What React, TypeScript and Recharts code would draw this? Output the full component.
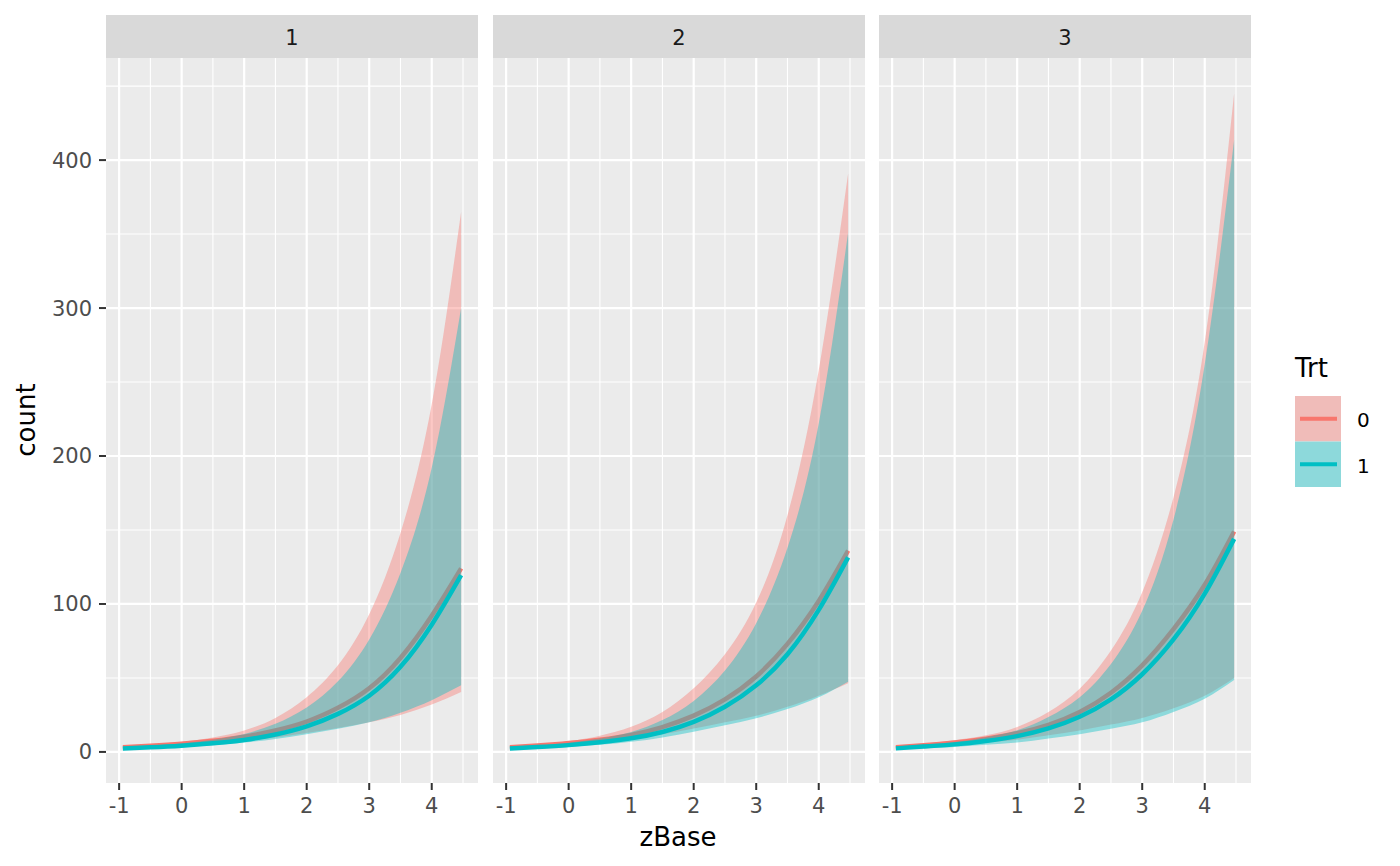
import { ComposedChart, Area, Line, XAxis, YAxis, CartesianGrid } from 'recharts';

const zBase = [-0.94, -0.5, 0, 0.5, 1, 1.5, 2, 2.5, 3, 3.5, 4, 4.47];

const facetLabels = ['1', '2', '3'];
const trtLabels = ['0', '1'];

const xTicks = [-1, 0, 1, 2, 3, 4];
const xMinor = [-0.5, 0.5, 1.5, 2.5, 3.5, 4.5];
const yTicks = [0, 100, 200, 300, 400];
const yMinor = [50, 150, 250, 350, 450];

// facet 1
const p1Fit0 = [3.1, 4.1, 5.5, 7.5, 10.3, 14.5, 20.5, 29.8, 43, 63.5, 92, 124];
const p1Lo0 = [2.3, 3.1, 4.1, 5.5, 7.4, 9.8, 12.8, 16.2, 20, 25, 32, 40.5];
const p1Hi0 = [3.9, 5.0, 6.8, 9.8, 14.5, 23, 37, 58.5, 93, 148, 235, 365];
const p1Fit1 = [2.3, 3.1, 4.2, 5.8, 8.1, 11.8, 17.3, 25.7, 38, 57.5, 86, 119.5];
const p1Lo1 = [1.6, 2.3, 3.2, 4.5, 6.3, 8.8, 12, 15.7, 20, 26.5, 35, 45];
const p1Hi1 = [3.3, 4.4, 5.8, 8.3, 12.2, 19, 30, 47.7, 76, 121, 192, 300];

// facet 2
const p2Fit0 = [3.1, 4.3, 6.0, 8.2, 11.5, 16.8, 24.5, 35.5, 51, 73, 102, 136];
const p2Lo0 = [2.4, 3.3, 4.5, 6.3, 8.8, 12, 15.8, 20, 24.5, 30.5, 38, 46.4];
const p2Hi0 = [4.0, 5.4, 7.3, 11, 17, 27, 43, 66, 101, 160, 258, 391];
const p2Fit1 = [2.3, 3.3, 4.6, 6.5, 9.2, 13.5, 20.3, 30.5, 45, 66, 96, 131.5];
const p2Lo1 = [1.6, 2.4, 3.4, 4.8, 6.8, 9.8, 13.7, 18, 22.7, 29, 37, 47.5];
const p2Hi1 = [3.4, 4.6, 6.2, 9.0, 13.5, 21.5, 34.5, 55, 87, 138, 222, 351];

// facet 3
const p3Fit0 = [3.2, 4.5, 6.4, 9.0, 12.6, 18.3, 27, 40, 58.5, 83, 113, 149];
const p3Lo0 = [2.4, 3.3, 4.6, 6.3, 8.3, 11.2, 14.5, 18.5, 23, 29.5, 38, 50];
const p3Hi0 = [4.1, 5.6, 7.9, 11.2, 16.9, 27, 42.7, 68.5, 108, 172, 277, 445];
const p3Fit1 = [2.4, 3.6, 5.1, 7.4, 10.7, 15.9, 23.8, 35.5, 52.5, 76, 107, 144];
const p3Lo1 = [1.7, 2.5, 3.4, 4.8, 6.3, 9.0, 12, 15.7, 20, 27, 36, 48.6];
const p3Hi1 = [3.6, 5.0, 6.7, 10, 14.6, 23.6, 37, 59.5, 95.5, 157, 262, 413.5];

const facetData = [
  [p1Fit0, p1Lo0, p1Hi0, p1Fit1, p1Lo1, p1Hi1],
  [p2Fit0, p2Lo0, p2Hi0, p2Fit1, p2Lo1, p2Hi1],
  [p3Fit0, p3Lo0, p3Hi0, p3Fit1, p3Lo1, p3Hi1],
];

const RED = '#F8766D';
const TEAL = '#00BFC4';
const FONT = '"DejaVu Sans", sans-serif';

const PANEL_TOP = 58;
const PANEL_H = 725;
const PANEL_W = 372;
const PANEL_LEFTS = [106, 493, 879];
const Y_AXIS_W = 106;
const X_AXIS_H = 60;

function Facet({ idx }: { idx: number }) {
  const [fit0, lo0, hi0, fit1, lo1, hi1] = facetData[idx];
  const rows = zBase.map((x, i) => ({
    x,
    fit0: fit0[i],
    band0: [lo0[i], hi0[i]],
    fit1: fit1[i],
    band1: [lo1[i], hi1[i]],
  }));
  const first = idx === 0;
  const left = first ? 0 : PANEL_LEFTS[idx];
  const width = first ? PANEL_LEFTS[0] + PANEL_W : PANEL_W;

  return (
    <div style={{ position: 'absolute', left, top: PANEL_TOP }}>
      <ComposedChart
        width={width}
        height={PANEL_H + X_AXIS_H}
        data={rows}
        margin={{ top: 0, right: 0, bottom: 0, left: 0 }}
      >
        <CartesianGrid
          fill="#EBEBEB"
          stroke="#FFFFFF"
          strokeWidth={1.1}
          horizontalValues={yMinor}
          verticalValues={xMinor}
        />
        <CartesianGrid
          stroke="#FFFFFF"
          strokeWidth={2.2}
          horizontalValues={yTicks}
          verticalValues={xTicks}
        />
        <XAxis
          dataKey="x"
          type="number"
          domain={[-1.21, 4.74]}
          ticks={xTicks}
          allowDataOverflow
          height={X_AXIS_H}
          axisLine={false}
          tickSize={7}
          tickMargin={8}
          tickLine={{ stroke: '#333333', strokeWidth: 2 }}
          tick={{ fill: '#4D4D4D', fontSize: 21, fontFamily: FONT }}
          tickFormatter={(v) => String(v)}
        />
        <YAxis
          type="number"
          domain={[-21, 469]}
          ticks={yTicks}
          allowDataOverflow
          hide={!first}
          width={Y_AXIS_W}
          axisLine={false}
          tickSize={7}
          tickMargin={7}
          tickLine={{ stroke: '#333333', strokeWidth: 2 }}
          tick={{ fill: '#4D4D4D', fontSize: 21, fontFamily: FONT }}
        />
        <Area
          type="natural"
          dataKey="band0"
          fill={RED}
          fillOpacity={0.4}
          stroke="none"
          isAnimationActive={false}
          zIndex={10}
        />
        <Line
          type="natural"
          dataKey="fit0"
          stroke={RED}
          strokeWidth={4.5}
          dot={false}
          isAnimationActive={false}
          zIndex={11}
        />
        <Area
          type="natural"
          dataKey="band1"
          fill={TEAL}
          fillOpacity={0.4}
          stroke="none"
          isAnimationActive={false}
          zIndex={12}
        />
        <Line
          type="natural"
          dataKey="fit1"
          stroke={TEAL}
          strokeWidth={4.5}
          dot={false}
          isAnimationActive={false}
          zIndex={13}
        />
      </ComposedChart>
    </div>
  );
}

export default function App() {
  return (
    <div style={{ position: 'absolute', left: 0, top: 0, width: 1400, height: 866, background: '#FFFFFF', fontFamily: FONT }}>
      <svg width={1400} height={866} style={{ position: 'absolute', left: 0, top: 0 }}>
        {facetLabels.map((lab, i) => (
          <g key={lab}>
            <rect x={PANEL_LEFTS[i]} y={15} width={PANEL_W} height={43} fill="#D9D9D9" />
            <text x={PANEL_LEFTS[i] + PANEL_W / 2} y={45} textAnchor="middle" fontSize={21} fill="#1A1A1A" fontFamily={FONT}>
              {lab}
            </text>
          </g>
        ))}
        <text x={35} y={420} transform="rotate(-90 35 420)" textAnchor="middle" fontSize={26} fill="#000000" fontFamily={FONT}>
          count
        </text>
        <text x={678} y={846} textAnchor="middle" fontSize={26} fill="#000000" fontFamily={FONT}>
          zBase
        </text>
        <text x={1295} y={377} fontSize={26} fill="#000000" fontFamily={FONT}>
          Trt
        </text>
        <rect x={1295} y={396} width={46} height={45.5} fill="#F0BCB9" />
        <rect x={1295} y={441.5} width={46} height={45.5} fill="#8DD9DB" />
        <line x1={1300} x2={1337} y1={418.8} y2={418.8} stroke={RED} strokeWidth={4} />
        <line x1={1300} x2={1337} y1={464.3} y2={464.3} stroke={TEAL} strokeWidth={4} />
        <text x={1357} y={427} fontSize={20} fill="#000000" fontFamily={FONT}>
          {trtLabels[0]}
        </text>
        <text x={1357} y={473} fontSize={20} fill="#000000" fontFamily={FONT}>
          {trtLabels[1]}
        </text>
      </svg>
      {facetLabels.map((lab, i) => (
        <Facet key={lab} idx={i} />
      ))}
    </div>
  );
}
